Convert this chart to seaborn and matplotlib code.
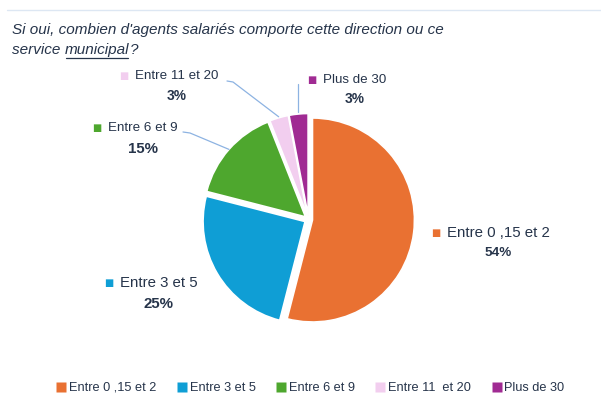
import numpy as np
import seaborn as sns
import matplotlib.pyplot as plt
from matplotlib.lines import Line2D

# data
categories = ['Entre 0 ,15 et 2', 'Entre 3 et 5', 'Entre 6 et 9', 'Entre 11 et 20', 'Plus de 30']
legend_names = ['Entre 0 ,15 et 2', 'Entre 3 et 5', 'Entre 6 et 9', 'Entre 11  et 20', 'Plus de 30']
shares = [54, 25, 15, 3, 3]
pct_labels = ['54%', '25%', '15%', '3%', '3%']
palette = ['#E97132', '#0F9ED5', '#4EA72E', '#F2CEEF', '#A02B93']

sns.set_theme(style='white')
plt.rcParams['font.family'] = ['Liberation Sans', 'DejaVu Sans']
text_col = '#26344A'
line_col = '#8DB3E2'

W, H = 601, 403
fig = plt.figure(figsize=(W / 100, H / 100), dpi=100)
ax = fig.add_axes([0, 0, 1, 1])

cx, cy, r = 308.5, H - 219.5, 102
expl = 4  # explode offset, data units = pixels here
wedges, _ = ax.pie(shares, colors=sns.color_palette(palette), startangle=90, counterclock=False,
                   explode=[expl] * len(shares), radius=r, center=(cx, cy),
                   wedgeprops=dict(edgecolor='white', linewidth=1.2))
ax.set_xlim(0, W)
ax.set_ylim(0, H)
ax.set_aspect('equal')
ax.axis('off')

# top rule
ax.add_line(Line2D([7, W], [H - 10, H - 10], color='#DDE7F3', lw=1))

# title
tfs = 11
t1 = ax.text(12, H - 30, "Si oui, combien d'agents salariés comporte cette direction ou ce",
             fontsize=tfs, style='italic', color=text_col, va='center', ha='left')
t2 = ax.text(12, H - 50, "service ", fontsize=tfs, style='italic', color=text_col, va='center', ha='left')
fig.canvas.draw()
rend = fig.canvas.get_renderer()
inv = ax.transData.inverted()
bb = t2.get_window_extent(rend)
x0 = inv.transform((bb.x1, 0))[0]
t3 = ax.text(x0, H - 50, "municipal", fontsize=tfs, style='italic', color=text_col, va='center', ha='left')
bb3 = t3.get_window_extent(rend)
x1 = inv.transform((bb3.x1, 0))[0]
ax.add_line(Line2D([x0 + 1, x1 - 1], [H - 57.5, H - 57.5], color=text_col, lw=0.9))
ax.text(x1 + 1, H - 50, "?", fontsize=tfs, style='italic', color=text_col, va='center', ha='left')

# labels: (name left x, name y, name size, pct y, pct size)
label_layout = [
    (447, 233, 10.8, 253, 9.7),
    (120, 283, 10.8, 304, 10.8),
    (108, 128, 9.6, 149, 10.8),
    (135, 76, 9.6, 96, 9.9),
    (323, 80, 9.6, 99, 9.9),
]
for i, (lx, ly, fs, py, pfs) in enumerate(label_layout):
    tn = ax.text(lx, H - ly, categories[i], fontsize=fs, color=text_col, va='center', ha='left')
    fig.canvas.draw()
    bbn = tn.get_window_extent(rend)
    xc = inv.transform(((bbn.x0 + bbn.x1) / 2, 0))[0]
    ax.text(lx - 11, H - ly, '■', fontsize=7, color=palette[i], va='center', ha='center',
            family='DejaVu Sans')
    ax.text(xc, H - py, pct_labels[i], fontsize=pfs, fontweight='bold', color=text_col,
            va='center', ha='center')

# leader lines for small slices
def wedge_point(w, extra=0):
    ang = np.deg2rad((w.theta1 + w.theta2) / 2)
    cxw, cyw = w.center
    return cxw + (w.r + extra) * np.cos(ang), cyw + (w.r + extra) * np.sin(ang)

gx, gy = wedge_point(wedges[2], 0)
ax.add_line(Line2D([183, 190, gx], [H - 132, H - 133, gy], color=line_col, lw=0.9))
px, py_ = wedge_point(wedges[3], 1)
ax.add_line(Line2D([227, 233, px], [H - 81, H - 82, py_], color=line_col, lw=0.9))
ux, uy = wedge_point(wedges[4], 2)
ax.add_line(Line2D([ux, ux], [H - 84, uy], color=line_col, lw=0.9))

# legend
handles = [Line2D([], [], marker='s', ls='none', ms=6.5, mfc=c, mec='none') for c in palette]
ax.legend(handles, legend_names, loc='center', bbox_to_anchor=(311 / W, (H - 388) / H),
          bbox_transform=fig.transFigure, ncol=5, frameon=False, fontsize=9.2,
          handlelength=0.6, handletextpad=0.3, columnspacing=1.7,
          labelcolor=text_col)

fig.savefig('out.png', dpi=100)
